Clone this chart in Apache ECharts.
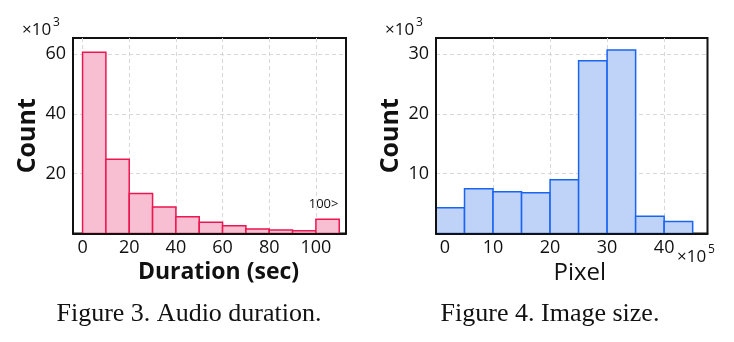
<!DOCTYPE html>
<html>
<head>
<meta charset="utf-8">
<script src="https://cdn.jsdelivr.net/npm/echarts@6/dist/echarts.min.js"></script>
<style>
  html, body { margin: 0; padding: 0; background: #fff; }
  #main { width: 734px; height: 342px; }
</style>
</head>
<body>
<div id="main"></div>
<script>
// Figure 3: audio duration histogram (bins of 10 s, last bin = 100+)
const durationBins = [0, 10, 20, 30, 40, 50, 60, 70, 80, 90, 100];
const durationWidth = 10;
const durationCounts = [60.6, 24.8, 13.4, 8.9, 5.6, 3.8, 2.6, 1.5, 1.2, 0.95, 4.8]; // x10^3
const durationXTicks = [0, 20, 40, 60, 80, 100];
const durationYTicks = [20, 40, 60];
const overflowLabel = '100>';

// Figure 4: image size histogram (bins of 5 x10^5 pixels)
const pixelBins = [0, 5, 10, 15, 20, 25, 30, 35, 40];
const pixelWidth = 5;
const pixelCounts = [4.3, 7.5, 7.0, 6.8, 9.0, 28.9, 30.7, 2.9, 2.0]; // x10^3
const pixelXTicks = [0, 10, 20, 30, 40];
const pixelYTicks = [10, 20, 30];

const tickFont = 'Open Sans';
const chart = echarts.init(document.getElementById('main'), null, { renderer: 'canvas' });

function toHist(bins, width, counts) {
    return bins.map((b, i) => [b, b + width, counts[i]]);
}

// draw each bin as a rect, using the axis scales
function histItem(fill, stroke, lastLabel) {
    return function (params, api) {
        const p0 = api.coord([api.value(0), api.value(2)]);
        const p1 = api.coord([api.value(1), 0]);
        const rect = {
            type: 'rect',
            shape: { x: p0[0], y: p0[1], width: p1[0] - p0[0], height: p1[1] - p0[1] },
            style: { fill: fill, stroke: stroke, lineWidth: 1.5 }
        };
        if (lastLabel && params.dataIndex === params.dataInsideLength - 1) {
            return {
                type: 'group',
                children: [rect, {
                    type: 'text',
                    style: {
                        text: lastLabel, x: (p0[0] + p1[0]) / 2 - 4, y: p0[1] - 8,
                        align: 'center', verticalAlign: 'bottom',
                        fontSize: 13, fontFamily: tickFont, fill: '#111'
                    }
                }]
            };
        }
        return rect;
    };
}

const gridLine = { show: true, lineStyle: { color: '#d8d8d8', type: [4, 3], width: 1 } };

// bottom axis: black line + labels, drawn over the bars
function xAxisOf(gridIndex, min, max, ticks, name, bold, namePad, formatter) {
    return {
        type: 'value', gridIndex: gridIndex, min: min, max: max, z: 5, position: 'bottom',
        axisLine: { show: true, onZero: false, lineStyle: { color: '#111', width: 2 } },
        axisTick: { show: false, customValues: ticks },
        axisLabel: { customValues: ticks, color: '#111', fontSize: 18, fontFamily: tickFont, margin: 5, formatter: formatter },
        splitLine: { show: false },
        name: name, nameLocation: 'middle', nameGap: 22,
        nameTextStyle: { color: '#111', fontSize: bold ? 23 : 24, fontWeight: bold ? 'bold' : 'normal',
                         fontFamily: tickFont, padding: [0, 0, 0, namePad] }
    };
}

// top axis: dashed grid lines only, drawn under the bars
function xGridOf(gridIndex, min, max, ticks) {
    return {
        type: 'value', gridIndex: gridIndex, min: min, max: max, z: 0, position: 'top',
        axisLine: { show: false }, axisTick: { show: false, customValues: ticks },
        axisLabel: { show: false, customValues: ticks }, splitLine: gridLine
    };
}

function yAxisOf(gridIndex, max, ticks) {
    return {
        type: 'value', gridIndex: gridIndex, min: 0, max: max, z: 5, position: 'left',
        axisLine: { show: true, onZero: false, lineStyle: { color: '#111', width: 2 } },
        axisTick: { show: false, customValues: ticks },
        axisLabel: { customValues: ticks, color: '#111', fontSize: 18, fontFamily: tickFont, margin: 7 },
        splitLine: { show: false },
        name: 'Count', nameLocation: 'middle', nameGap: 33, nameRotate: 90,
        nameTextStyle: { color: '#111', fontSize: 25, fontWeight: 'bold', fontFamily: tickFont }
    };
}

function yGridOf(gridIndex, max, ticks) {
    return {
        type: 'value', gridIndex: gridIndex, min: 0, max: max, z: 0, position: 'right',
        axisLine: { show: false }, axisTick: { show: false, customValues: ticks },
        axisLabel: { show: false, customValues: ticks }, splitLine: gridLine
    };
}

function expText(x, y, exp) {
    return [
        { type: 'text', left: x, top: y, style: { text: '×10', fontSize: 17, fontFamily: tickFont, fill: '#111' } },
        { type: 'text', left: x + 31, top: y - 5, style: { text: exp, fontSize: 12, fontFamily: tickFont, fill: '#111' } }
    ];
}

const captionStyle = { fontFamily: 'Liberation Serif', fontSize: 26, fontWeight: 'normal', color: '#111' };

const option = {
    backgroundColor: '#fff',
    animation: false,
    title: [
        { text: 'Figure 3. Audio duration.', left: 184, top: 296, textAlign: 'center', textStyle: captionStyle },
        { text: 'Figure 4. Image size.', left: 545, top: 296, textAlign: 'center', textStyle: captionStyle }
    ],
    grid: [
        { left: 73, top: 38, right: 388, bottom: 108.5, show: true, borderColor: '#111', borderWidth: 2, backgroundColor: 'transparent' },
        { left: 436, top: 38, right: 26.5, bottom: 108.5, show: true, borderColor: '#111', borderWidth: 2, backgroundColor: 'transparent' }
    ],
    xAxis: [
        xAxisOf(0, -4.1, 112.9, durationXTicks, 'Duration (sec)', true, 18),
        xAxisOf(1, 0, 47.6, pixelXTicks, 'Pixel', false, 16, v => (v === 0 ? '{z|0}' : String(v))),
        xGridOf(0, -4.1, 112.9, durationXTicks),
        xGridOf(1, 0, 47.6, pixelXTicks)
    ],
    yAxis: [
        yAxisOf(0, 65.4, durationYTicks),
        yAxisOf(1, 32.7, pixelYTicks),
        yGridOf(0, 65.4, durationYTicks),
        yGridOf(1, 32.7, pixelYTicks)
    ],
    series: [
        {
            type: 'custom', xAxisIndex: 0, yAxisIndex: 0, z: 2,
            renderItem: histItem('#F8BFD2', '#EC1650', overflowLabel),
            data: toHist(durationBins, durationWidth, durationCounts)
        },
        {
            type: 'custom', xAxisIndex: 1, yAxisIndex: 1, z: 2,
            renderItem: histItem('#BFD3F8', '#1A64F2', null),
            data: toHist(pixelBins, pixelWidth, pixelCounts)
        }
    ],
    graphic: [].concat(
        expText(22, 22, '3'),
        expText(385, 22, '3'),
        expText(677, 249, '5')
    )
};

// shift the right chart's "0" label inward like the original
option.xAxis[1].axisLabel.rich = { z: { padding: [0, 0, 0, 18], fontSize: 18, fontFamily: tickFont, color: '#111' } };

chart.setOption(option);
</script>
</body>
</html>
